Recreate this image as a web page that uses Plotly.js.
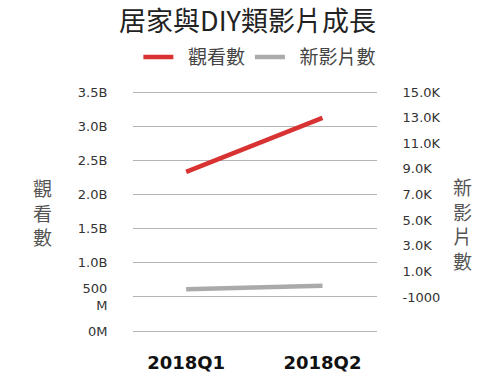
<!DOCTYPE html>
<html>
<head>
<meta charset="utf-8">
<script src="https://cdn.plot.ly/plotly-3.0.1.min.js"></script>
<style>html,body{margin:0;padding:0;background:#fff;}#chart{width:500px;height:373px;}</style>
</head>
<body>
<div id="chart"></div>
<script>
// Data
const quarters = ['2018Q1', '2018Q2'];
const views = [2.33e9, 3.12e9];          // 觀看數
const newVideos = [-400, -120];          // 新影片數 (read against right axis)
const leftTickVals = [0, 0.5e9, 1.0e9, 1.5e9, 2.0e9, 2.5e9, 3.0e9, 3.5e9];
const leftTickText = ['0M', '500<br>M', '1.0B', '1.5B', '2.0B', '2.5B', '3.0B', '3.5B'];
const rightTickVals = [-1000, 1000, 3000, 5000, 7000, 9000, 11000, 13000, 15000];
const rightTickText = ['-1000', '1.0K', '3.0K', '5.0K', '7.0K', '9.0K', '11.0K', '13.0K', '15.0K'];

const tickFont = {family: 'DejaVu Sans, sans-serif', size: 13, color: '#333'};
const cjk = 'Noto Sans CJK TC, sans-serif';

const traces = [
  {x: quarters, y: views, name: '\u2002觀看數', type: 'scatter', mode: 'lines',
   line: {color: '#d83232', width: 4.5}, yaxis: 'y'},
  {x: quarters, y: newVideos, name: '\u2002新影片數', type: 'scatter', mode: 'lines',
   line: {color: '#aaaaaa', width: 4.5}, yaxis: 'y2'}
];

const layout = {
  width: 500, height: 373,
  margin: {l: 133, r: 123, t: 88, b: 38},
  paper_bgcolor: '#fff', plot_bgcolor: '#fff',
  title: {text: '居家與DIY類影片成長', x: 0.495, xanchor: 'center', y: 0.943, yanchor: 'middle',
          font: {family: cjk, size: 27, color: '#222'}},
  showlegend: true,
  legend: {orientation: 'h', x: 0.52, xanchor: 'center', y: 1.125, yanchor: 'middle',
           font: {family: cjk, size: 19, color: '#444'}, itemwidth: 30, tracegroupgap: 0},
  xaxis: {type: 'category', range: [-0.39, 1.40], showgrid: false, zeroline: false, showline: false,
          ticks: 'outside', ticklen: 11, tickcolor: 'rgba(0,0,0,0)',
          tickfont: {family: 'DejaVu Sans, sans-serif', size: 18, color: '#111', weight: 'bold'}},
  yaxis: {range: [-0.0586e9, 3.5586e9], tickvals: leftTickVals, ticktext: leftTickText,
          showgrid: true, gridcolor: '#b4b4b4', gridwidth: 1, zeroline: false, showline: false,
          ticks: 'outside', ticklen: 22, tickcolor: 'rgba(0,0,0,0)', tickfont: tickFont},
  yaxis2: {overlaying: 'y', side: 'right', range: [-3966, 15312], tickvals: rightTickVals, ticktext: rightTickText,
           showgrid: false, zeroline: false, showline: false,
           ticks: 'outside', ticklen: 22, tickcolor: 'rgba(0,0,0,0)', tickfont: tickFont},
  annotations: [
    {text: '觀<br>看<br>數', xref: 'paper', yref: 'paper', x: -0.37, y: 0.5, showarrow: false,
     xanchor: 'center', yanchor: 'middle', font: {family: cjk, size: 19, color: '#555'}},
    {text: '新<br>影<br>片<br>數', xref: 'paper', yref: 'paper', x: 1.35, y: 0.45, showarrow: false,
     xanchor: 'center', yanchor: 'middle', font: {family: cjk, size: 19, color: '#555'}}
  ]
};

Plotly.newPlot('chart', traces, layout, {displayModeBar: false, staticPlot: true});
</script>
</body>
</html>
